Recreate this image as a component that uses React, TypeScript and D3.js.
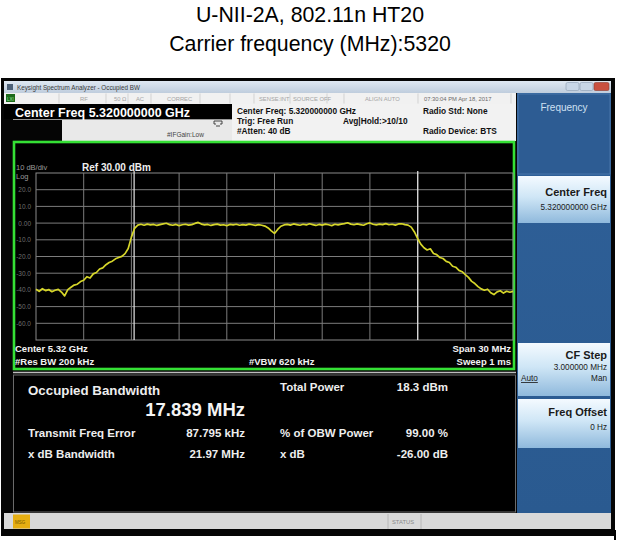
import React from 'react';
import * as d3 from 'd3';

// ---------- data ----------
const TITLE_LINE_1 = 'U-NII-2A, 802.11n HT20';
const TITLE_LINE_2 = 'Carrier frequency (MHz):5320';

const SPAN_MHZ = [-15, 15]; // offset from 5.32 GHz centre
const LEVEL_RANGE_DBM = [-70, 30];
const Y_TICK_VALUES = [20, 10, 0, -10, -20, -30, -40, -50, -60];
const Y_TICK_LABELS = ['20.0', '10.0', '0.00', '-10.0', '-20.0', '-30.0', '-40.0', '-50.0', '-60.0'];
const X_GRID_MHZ = [-12, -9, -6, -3, 0, 3, 6, 9, 12];
const Y_GRID_DBM = [20, 10, 0, -10, -20, -30, -40, -50, -60];
const OBW_EDGES_MHZ = [-8.83, 9.01];

const TRACE_DBM = [
  -39.6, -40.9, -39.3, -40.4, -39.8, -41.1, -40.2, -39.7, -41.3, -43.6,
  -39.8, -38.4, -37.1, -36.6, -35.0, -34.2, -32.1, -32.9, -30.4, -29.6,
  -27.5, -26.8, -24.9, -23.6, -22.8, -21.4, -20.6, -19.9, -18.3, -15.2,
  -8.4, -3.1, -1.2, -0.7, -1.3, -0.6, -1.1, -0.8, -1.4, -0.9,
  -0.5, -0.1, -0.9, -1.3, -0.8, -1.5, -1.0, -0.7, -1.2, -0.9,
  -0.2, 0.4, -0.6, -1.1, -0.8, -1.4, -0.9, -0.6, -1.2, -1.0,
  -1.5, -0.8, -1.1, -0.7, -1.3, -0.9, -1.2, -0.6, -1.0, -1.4,
  -0.9, -1.3, -1.8, -2.9, -4.6, -6.2, -3.8, -1.9, -1.1, -0.8,
  -1.2, -0.5, -0.9, -1.3, -0.7, -1.1, -0.4, -0.9, -1.4, -0.8,
  -1.2, -0.6, -1.0, -1.5, -0.7, -1.1, -0.6, -0.3, 0.2, -0.6,
  -1.0, -0.5, -0.9, -1.3, -0.4, 0.1, -0.7, -1.1, -0.6, -0.9,
  -0.3, -1.0, -0.7, -1.2, -0.5, -0.4, -0.9, -1.2, -2.4, -5.3,
  -9.2, -12.6, -14.8, -16.1, -15.4, -18.2, -18.9, -20.6, -21.2, -22.9,
  -23.6, -25.8, -26.4, -28.3, -29.1, -30.8, -32.5, -34.9, -36.2, -38.0,
  -39.4, -40.2, -39.6, -41.7, -42.8, -41.2, -40.5, -41.9, -40.8, -41.4,
  -40.9,
];

const STATUS_ITEMS = ['RF', '50 Ω', 'AC', 'CORREC', 'SENSE:INT', 'SOURCE OFF', 'ALIGN AUTO'];
const STATUS_TIME = '07:30:04 PM Apr 18, 2017';
const INFO_COL_1 = ['Center Freq: 5.320000000 GHz', 'Trig: Free Run', '#Atten: 40 dB'];
const INFO_COL_2 = ['', 'Avg|Hold:>10/10', ''];
const INFO_COL_3 = ['Radio Std: None', '', 'Radio Device: BTS'];
const RESULT_LEFT_LABELS = ['Transmit Freq Error', 'x dB Bandwidth'];
const RESULT_LEFT_VALUES = ['87.795 kHz', '21.97 MHz'];
const RESULT_RIGHT_LABELS = ['Total Power', '% of OBW Power', 'x dB'];
const RESULT_RIGHT_VALUES = ['18.3 dBm', '99.00 %', '-26.00 dB'];

// ---------- component ----------
const FONT = '"Liberation Sans", Arial, Helvetica, sans-serif';

export default function App() {
  const plotL = 36, plotR = 513, plotT = 173, plotB = 340;
  const x = d3.scaleLinear().domain(SPAN_MHZ).range([plotL, plotR]);
  const y = d3.scaleLinear().domain(LEVEL_RANGE_DBM).range([plotB, plotT]);
  const idxToMhz = d3.scaleLinear().domain([0, TRACE_DBM.length - 1]).range(SPAN_MHZ);
  const line = d3
    .line<number>()
    .x((d, i) => x(idxToMhz(i)))
    .y((d) => y(d));
  const tracePath = line(TRACE_DBM) || '';

  const statusX = [80, 114, 136, 167, 259, 293, 365];
  const statusSeps = [59, 106, 128, 151, 200, 230, 254, 290, 327, 344, 418, 511];

  return (
    <svg
      width={621}
      height={540}
      viewBox="0 0 621 540"
      style={{ position: 'absolute', left: 0, top: 0, background: '#fff' }}
      fontFamily={FONT}
    >
      <defs>
        <linearGradient id="titlebar" x1="0" y1="0" x2="0" y2="1">
          <stop offset="0%" stopColor="#dfe8f2" />
          <stop offset="100%" stopColor="#bfcddd" />
        </linearGradient>
        <linearGradient id="softkey" x1="0" y1="0" x2="0" y2="1">
          <stop offset="0%" stopColor="#f4faff" />
          <stop offset="45%" stopColor="#cfe6f6" />
          <stop offset="100%" stopColor="#8fb9dc" />
        </linearGradient>
        <linearGradient id="panel" x1="0" y1="0" x2="0" y2="1">
          <stop offset="0%" stopColor="#2f6098" />
          <stop offset="100%" stopColor="#2a5a90" />
        </linearGradient>
      </defs>

      {/* title */}
      <text x={310} y={22} textAnchor="middle" fontSize={21.3} fill="#000">{TITLE_LINE_1}</text>
      <text x={310} y={51} textAnchor="middle" fontSize={21.3} fill="#000">{TITLE_LINE_2}</text>

      {/* screenshot frame */}
      <rect x={1} y={78} width={614} height={458} fill="#050505" />
      <line x1={615} y1={530} x2={615} y2={540} stroke="#000" strokeWidth={2} />

      {/* window title bar */}
      <rect x={4} y={81} width={607} height={12} fill="url(#titlebar)" />
      <rect x={7} y={84} width={6} height={6} fill="#4d6178" />
      <text x={17} y={90} fontSize={6.3} fill="#3a3a3a">Keysight Spectrum Analyzer - Occupied BW</text>
      <rect x={566} y={82.5} width={13} height={8} rx={1.5} fill="#c8d6e6" stroke="#8a9bb0" strokeWidth={0.6} />
      <rect x={580} y={82.5} width={13} height={8} rx={1.5} fill="#c8d6e6" stroke="#8a9bb0" strokeWidth={0.6} />
      <rect x={594} y={82.5} width={15} height={8} rx={1.5} fill="#c9503f" stroke="#8a3a30" strokeWidth={0.6} />

      {/* status row */}
      <rect x={4} y={93} width={512} height={11} fill="#f1f1f1" />
      <rect x={6} y={94} width={9} height={8} fill="#1c6a1c" />
      <text x={7} y={100.5} fontSize={4.5} fill="#9fe89f">LXI</text>
      {statusSeps.map((sx) => (
        <line key={sx} x1={sx} y1={93.5} x2={sx} y2={103.5} stroke="#c4c4c4" strokeWidth={0.7} />
      ))}
      {STATUS_ITEMS.map((s, i) => (
        <text key={s} x={statusX[i]} y={101} fontSize={5.8} fill="#a4a4a4">{s}</text>
      ))}
      <text x={424} y={101} fontSize={5.8} fill="#6a6a6a">{STATUS_TIME}</text>

      {/* measurement header */}
      <rect x={232} y={104} width={284} height={37} fill="#f2f2f2" />
      <rect x={4} y={104} width={228} height={15} fill="#000" />
      <line x1={13} y1={119.5} x2={232} y2={119.5} stroke="#9a9a9a" strokeWidth={1} />
      <text x={15} y={117} fontSize={12.5} fontWeight="bold" fill="#fff">Center Freq 5.320000000 GHz</text>
      <rect x={62} y={120} width={170} height={21} fill="#e9e9e9" />
      <text x={167} y={137} fontSize={6.5} fill="#444">#IFGain:Low</text>
      <path d="M214,121 h8 v3 h-2 M214,121 v3 h2 M216,126 h4" fill="none" stroke="#333" strokeWidth={0.9} />
      {INFO_COL_1.map((s, i) => (
        <text key={'c1' + i} x={237} y={114 + i * 10} fontSize={8.3} fontWeight="bold" fill="#111">{s}</text>
      ))}
      {INFO_COL_2.map((s, i) => (
        <text key={'c2' + i} x={343} y={114 + i * 10} fontSize={8.3} fontWeight="bold" fill="#111">{s}</text>
      ))}
      {INFO_COL_3.map((s, i) => (
        <text key={'c3' + i} x={423} y={114 + i * 10} fontSize={8.3} fontWeight="bold" fill="#111">{s}</text>
      ))}

      {/* graticule frame */}
      <rect x={14} y={142} width={500} height={227} fill="#000" stroke="#35e035" strokeWidth={2.6} />
      <text x={16} y={170} fontSize={7.5} fill="#9a9a9a">10 dB/div</text>
      <text x={16} y={178.5} fontSize={7.5} fill="#9a9a9a">Log</text>
      <text x={82} y={170.5} fontSize={10} fontWeight="bold" fill="#eee">Ref 30.00 dBm</text>

      {/* grid */}
      <rect x={plotL} y={plotT} width={plotR - plotL} height={plotB - plotT} fill="none" stroke="#8a8a8a" strokeWidth={1} />
      {X_GRID_MHZ.map((f) => (
        <line key={'vx' + f} x1={x(f)} y1={plotT} x2={x(f)} y2={plotB} stroke="#7c7c7c" strokeWidth={1} />
      ))}
      {Y_GRID_DBM.map((v) => (
        <line key={'hy' + v} x1={plotL} y1={y(v)} x2={plotR} y2={y(v)} stroke="#7c7c7c" strokeWidth={1} />
      ))}
      {Y_TICK_VALUES.map((v, i) => (
        <text key={'yl' + v} x={31} y={y(v) + 2.5} textAnchor="end" fontSize={6.5} fill="#6e6e6e">{Y_TICK_LABELS[i]}</text>
      ))}

      {/* OBW markers */}
      {OBW_EDGES_MHZ.map((f) => (
        <line key={'obw' + f} x1={x(f)} y1={plotT - 2} x2={x(f)} y2={plotB} stroke="#e8e8e8" strokeWidth={1.2} />
      ))}

      {/* trace */}
      <path d={tracePath} fill="none" stroke="#d6d62a" strokeWidth={1.7} strokeLinejoin="round" />

      {/* bottom annotations */}
      <text x={15} y={352} fontSize={9.5} fontWeight="bold" fill="#f2f2f2">Center  5.32 GHz</text>
      <text x={15} y={364.5} fontSize={9.5} fontWeight="bold" fill="#f2f2f2">#Res BW  200 kHz</text>
      <text x={249} y={364.5} fontSize={9.5} fontWeight="bold" fill="#f2f2f2">#VBW  620 kHz</text>
      <text x={511} y={352} textAnchor="end" fontSize={9.5} fontWeight="bold" fill="#f2f2f2">Span 30 MHz</text>
      <text x={511} y={364.5} textAnchor="end" fontSize={9.5} fontWeight="bold" fill="#f2f2f2">Sweep  1 ms</text>

      {/* results panel */}
      <line x1={13} y1={372.5} x2={516} y2={372.5} stroke="#bdbdbd" strokeWidth={1.5} />
      <rect x={13.5} y={375} width={502} height={137} fill="#000" stroke="#6a6a6a" strokeWidth={1} />
      <text x={28} y={395} fontSize={13.3} fontWeight="bold" fill="#eee">Occupied Bandwidth</text>
      <text x={245} y={416} textAnchor="end" fontSize={18.5} fontWeight="bold" fill="#f4f4f4">17.839 MHz</text>
      {RESULT_LEFT_LABELS.map((s, i) => (
        <text key={'rl' + i} x={28} y={437 + i * 21} fontSize={11.5} fontWeight="bold" fill="#eee">{s}</text>
      ))}
      {RESULT_LEFT_VALUES.map((s, i) => (
        <text key={'rv' + i} x={245} y={437 + i * 21} textAnchor="end" fontSize={11.5} fontWeight="bold" fill="#eee">{s}</text>
      ))}
      {RESULT_RIGHT_LABELS.map((s, i) => (
        <text key={'rrl' + i} x={280} y={[391, 437, 458][i]} fontSize={11.5} fontWeight="bold" fill="#eee">{s}</text>
      ))}
      {RESULT_RIGHT_VALUES.map((s, i) => (
        <text key={'rrv' + i} x={448} y={[391, 437, 458][i]} textAnchor="end" fontSize={11.5} fontWeight="bold" fill="#eee">{s}</text>
      ))}

      {/* status bar */}
      <rect x={4} y={513} width={607} height={16} fill="#d9d9d9" />
      <rect x={13} y={514.5} width={17} height={14} fill="#e6ae12" />
      <text x={15} y={523.5} fontSize={4.5} fill="#7a5a00">MSG</text>
      <line x1={388} y1={514} x2={388} y2={529} stroke="#b0b0b0" strokeWidth={0.8} />
      <line x1={421} y1={514} x2={421} y2={529} stroke="#b0b0b0" strokeWidth={0.8} />
      <text x={392} y={524} fontSize={5.8} fill="#8a8a8a">STATUS</text>

      {/* softkey panel */}
      <rect x={517} y={93} width={94} height={420} fill="url(#panel)" />
      <rect x={518} y={94} width={92} height={80} fill="#2d5c93" stroke="#5a86b8" strokeWidth={0.6} />
      <text x={564} y={111} textAnchor="middle" fontSize={10} fill="#cfe0f2">Frequency</text>

      <rect x={518} y={176} width={92} height={47} fill="url(#softkey)" />
      <text x={607} y={196} textAnchor="end" fontSize={11} fontWeight="bold" fill="#1a1a1a">Center Freq</text>
      <text x={607} y={210} textAnchor="end" fontSize={8.2} fill="#1a1a1a">5.320000000 GHz</text>

      <rect x={518} y={343} width={92} height={53} fill="url(#softkey)" />
      <text x={607} y={359} textAnchor="end" fontSize={11} fontWeight="bold" fill="#1a1a1a">CF Step</text>
      <text x={607} y={370} textAnchor="end" fontSize={8.2} fill="#1a1a1a">3.000000 MHz</text>
      <text x={521} y={381} fontSize={8.2} fill="#1a1a1a" textDecoration="underline">Auto</text>
      <text x={607} y={381} textAnchor="end" fontSize={8.2} fill="#1a1a1a">Man</text>

      <rect x={518} y={399} width={92} height={49} fill="url(#softkey)" />
      <text x={607} y={416} textAnchor="end" fontSize={11} fontWeight="bold" fill="#1a1a1a">Freq Offset</text>
      <text x={607} y={430} textAnchor="end" fontSize={8.2} fill="#1a1a1a">0 Hz</text>
    </svg>
  );
}
